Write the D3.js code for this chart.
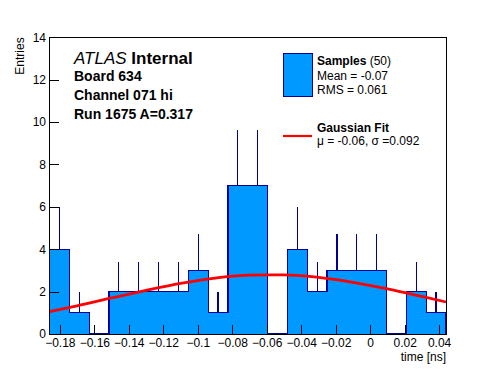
<!DOCTYPE html>
<html>
<head>
<meta charset="utf-8">
<script src="https://cdn.jsdelivr.net/npm/d3@7"></script>
<style>
  body { margin: 0; background: #fff; }
  svg { font-family: "Liberation Sans", Arial, Helvetica, sans-serif; }
</style>
</head>
<body>
<svg id="chart" width="496" height="372"></svg>
<script>
// histogram: 20 bins starting at binLow
var binLow = -0.186;
var binWidth = 0.0115;
var counts = [4, 1, 0, 2, 2, 2, 2, 3, 1, 7, 7, 0, 4, 2, 3, 3, 3, 0, 2, 1];

// gaussian fit curve
var fitX = [-0.186, -0.17, -0.15, -0.13, -0.11, -0.09, -0.07, -0.05, -0.03, -0.01, 0.01, 0.03, 0.044];
var fitY = [1.06, 1.33, 1.70, 2.06, 2.39, 2.64, 2.78, 2.79, 2.67, 2.44, 2.13, 1.77, 1.51];

var xTicks = [-0.18, -0.16, -0.14, -0.12, -0.1, -0.08, -0.06, -0.04, -0.02, 0, 0.02, 0.04];
var yTicks = [0, 2, 4, 6, 8, 10, 12, 14];

var headerLines = ["Board 634", "Channel 071 hi", "Run 1675 A=0.317"];

var svg = d3.select("#chart");

var x = d3.scaleLinear().domain([binLow, binLow + counts.length * binWidth]).range([49.5, 446]);
var y = d3.scaleLinear().domain([0, 14]).range([334, 37.3]);

var fillCol = "#0099ff", edgeCol = "#000099";

// bins -> step points for the fill
var bins = counts.map(function(c, i) { return {x0: binLow + i * binWidth, n: c}; });
var stepPts = bins.map(function(b) { return [b.x0, b.n]; });
stepPts.push([binLow + counts.length * binWidth, counts[counts.length - 1]]);

var area = d3.area().curve(d3.curveStepAfter)
    .x(function(d) { return x(d[0]); })
    .y0(y(0))
    .y1(function(d) { return y(d[1]); });

svg.append("path").datum(stepPts)
    .attr("d", area)
    .attr("fill", fillCol)
    .attr("shape-rendering", "crispEdges");

// outline, dropping to zero at both ends
var outline = [[binLow, 0]];
bins.forEach(function(b) {
  outline.push([b.x0, b.n]);
  outline.push([b.x0 + binWidth, b.n]);
});
outline.push([binLow + counts.length * binWidth, 0]);

svg.append("path").datum(outline)
    .attr("d", d3.line().x(function(d) { return x(d[0]); }).y(function(d) { return y(d[1]); }))
    .attr("fill", "none")
    .attr("stroke", edgeCol)
    .attr("stroke-width", 1.2)
    .attr("shape-rendering", "crispEdges");

// error bars (only the upper half shows above the fill)
svg.append("g").selectAll("line")
    .data(bins.filter(function(b) { return b.n > 0; }))
  .enter().append("line")
    .attr("x1", function(d) { return x(d.x0 + binWidth / 2); })
    .attr("x2", function(d) { return x(d.x0 + binWidth / 2); })
    .attr("y1", function(d) { return y(d.n); })
    .attr("y2", function(d) { return y(d.n + Math.sqrt(d.n)); })
    .attr("stroke", edgeCol)
    .attr("stroke-width", 1.2)
    .attr("shape-rendering", "crispEdges");

// fit curve
svg.append("path").datum(d3.zip(fitX, fitY))
    .attr("d", d3.line().curve(d3.curveMonotoneX)
      .x(function(d) { return x(d[0]); })
      .y(function(d) { return y(d[1]); }))
    .attr("fill", "none")
    .attr("stroke", "#ff0000")
    .attr("stroke-width", 2.8);

// axes
var fmt = function(d) { return String(+d.toFixed(2)).replace("-", "\u2212"); };
var xMinor = d3.range(-46, 12).map(function(i) { return i * 0.004; })
    .filter(function(v) { return v >= x.domain()[0] - 1e-9 && v <= x.domain()[1] + 1e-9; });
var yMinor = d3.range(0, 29).map(function(i) { return i * 0.5; });

var gx = svg.append("g").attr("transform", "translate(0," + y(0) + ")");
gx.call(d3.axisBottom(x).tickValues(xMinor).tickSize(-4.5).tickFormat(""));
gx.call(d3.axisBottom(x).tickValues(xTicks).tickSize(-9).tickPadding(4.5).tickFormat(fmt));

var gy = svg.append("g").attr("transform", "translate(" + x.range()[0] + ",0)");
gy.call(d3.axisLeft(y).tickValues(yMinor).tickSize(-4.5).tickFormat(""));
gy.call(d3.axisLeft(y).tickValues(yTicks).tickSize(-9).tickPadding(3.5).tickFormat(fmt));

svg.selectAll(".domain").remove();
svg.selectAll(".tick line").attr("stroke", "#000").attr("shape-rendering", "crispEdges");
svg.selectAll(".tick text").attr("fill", "#000").attr("font-size", 12)
    .attr("font-family", "Liberation Sans, Arial, sans-serif");

// frame
svg.append("rect")
    .attr("x", x.range()[0]).attr("y", y.range()[1])
    .attr("width", x.range()[1] - x.range()[0])
    .attr("height", y.range()[0] - y.range()[1])
    .attr("fill", "none").attr("stroke", "#000").attr("stroke-width", 1)
    .attr("shape-rendering", "crispEdges");

// axis titles
svg.append("text").attr("x", 446).attr("y", 360.5)
    .attr("text-anchor", "end").attr("font-size", 12).text("time [ns]");
svg.append("text").attr("transform", "translate(23.5,37.3) rotate(-90)")
    .attr("text-anchor", "end").attr("font-size", 12).text("Entries");

// ATLAS label
var atl = svg.append("text").attr("x", 74).attr("y", 63.5).attr("font-size", 17);
atl.append("tspan").attr("font-style", "italic").text("ATLAS");
atl.append("tspan").attr("font-weight", "bold").text(" Internal");

svg.append("g").selectAll("text")
    .data(headerLines)
  .enter().append("text")
    .attr("x", 74)
    .attr("y", function(d, i) { return 81 + i * 19; })
    .attr("font-size", 14)
    .attr("font-weight", "bold")
    .text(function(d) { return d; });

// legend
var leg = svg.append("g");
leg.append("rect").attr("x", 283).attr("y", 53.5).attr("width", 29).attr("height", 43)
    .attr("fill", fillCol).attr("stroke", edgeCol).attr("stroke-width", 1)
    .attr("shape-rendering", "crispEdges");
var t1 = leg.append("text").attr("x", 317).attr("y", 65).attr("font-size", 12);
t1.append("tspan").attr("font-weight", "bold").text("Samples");
t1.append("tspan").text(" (50)");
leg.append("text").attr("x", 317).attr("y", 79.5).attr("font-size", 12).text("Mean = -0.07");
leg.append("text").attr("x", 317).attr("y", 94).attr("font-size", 12).text("RMS = 0.061");

leg.append("line").attr("x1", 283).attr("x2", 312).attr("y1", 136).attr("y2", 136)
    .attr("stroke", "#ff0000").attr("stroke-width", 2.2);
leg.append("text").attr("x", 317).attr("y", 132).attr("font-size", 12)
    .attr("font-weight", "bold").text("Gaussian Fit");
leg.append("text").attr("x", 317).attr("y", 144.5).attr("font-size", 12)
    .text("\u03bc = -0.06, \u03c3 =0.092");
</script>
</body>
</html>
